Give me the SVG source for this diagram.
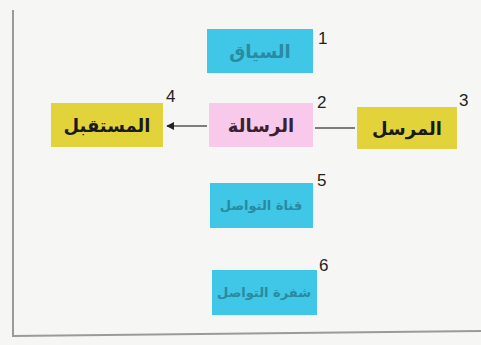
<svg xmlns="http://www.w3.org/2000/svg" width="481" height="345" viewBox="0 0 481 345">
<defs>
<marker id="ah" viewBox="0 0 10 10" refX="9" refY="5" markerWidth="8" markerHeight="8" orient="auto" markerUnits="userSpaceOnUse"><path d="M0,5 L10,0 L10,10 Z" transform="rotate(180 5 5)" fill="#222"/></marker>
<style>
.cyan{fill:#40c6e6}
.yel{fill:#e2d33a}
.pink{fill:#f8c9ea}
.lbl{font-family:"DejaVu Sans",sans-serif;font-weight:bold;font-size:18px;text-anchor:middle;dominant-baseline:central}
.dark{fill:#1a1a1a}
.faint{fill:#2a8aa0}
.num{font-family:"Liberation Sans",sans-serif;font-size:17px;fill:#222}
.conn{stroke:#555;stroke-width:1.5;fill:none}
</style>
</defs>
<rect x="0" y="0" width="481" height="345" fill="#f6f6f4"/>
<path d="M13,10 L13,336 L481,331" fill="none" stroke="#9a9a9a" stroke-width="2"/>
<g id="connectors">
<line class="conn" x1="355" y1="128" x2="315" y2="128"/>
<line class="conn" x1="207" y1="126" x2="167" y2="126" marker-end="url(#ah)"/>
</g>
<g id="n1"><rect class="cyan" x="207" y="29" width="106" height="44"/><text class="lbl faint" x="260" y="51">السياق</text><text class="num" x="318" y="44">1</text></g>
<g id="n2"><rect class="pink" x="209" y="103" width="104" height="44"/><text class="lbl" x="261" y="125" fill="#3a2030">الرسالة</text><text class="num" x="317" y="108">2</text></g>
<g id="n3"><rect class="yel" x="357" y="107" width="100" height="42"/><text class="lbl dark" x="407" y="128">المرسل</text><text class="num" x="459" y="106">3</text></g>
<g id="n4"><rect class="yel" x="51" y="103" width="112" height="44"/><text class="lbl dark" x="107" y="125">المستقبل</text><text class="num" x="166" y="102">4</text></g>
<g id="n5"><rect class="cyan" x="210" y="183" width="103" height="45"/><text class="lbl faint" x="261" y="205" style="font-size:13px">قناة التواصل</text><text class="num" x="317" y="186">5</text></g>
<g id="n6"><rect class="cyan" x="212" y="270" width="105" height="45"/><text class="lbl faint" x="264" y="292" style="font-size:13px">شفرة التواصل</text><text class="num" x="319" y="271">6</text></g>
</svg>
